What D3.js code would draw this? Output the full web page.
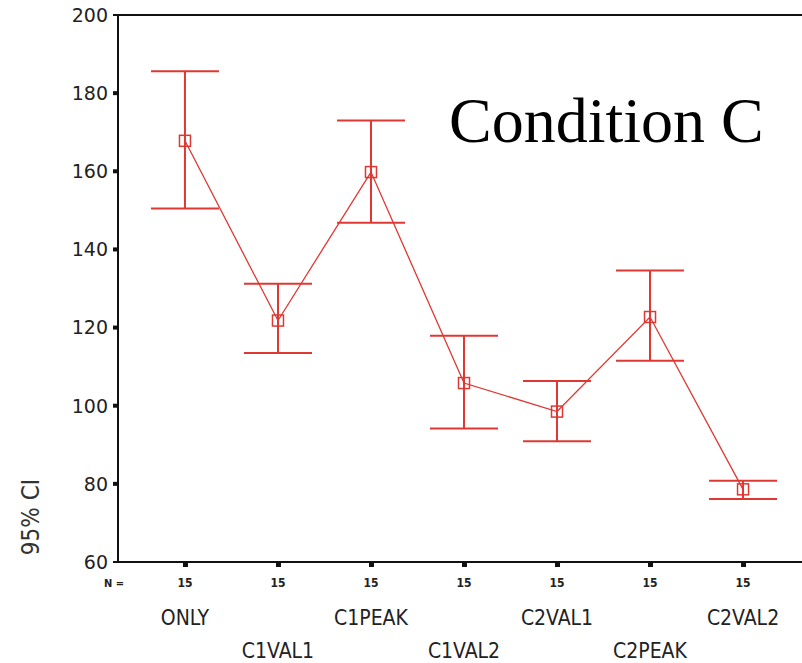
<!DOCTYPE html>
<meta charset="utf-8">
<body style="margin:0;background:#fff">
<script src="https://d3js.org/d3.v7.min.js"></script>
<script>
var width = 802;
var height = 663;

// values
var categories = ["ONLY", "C1VAL1", "C1PEAK", "C1VAL2", "C2VAL1", "C2PEAK", "C2VAL2"];
var means = [167.8, 121.8, 159.8, 105.8, 98.5, 122.7, 78.6];
var upper = [185.6, 131.2, 173.0, 117.9, 106.3, 134.6, 80.8];
var lower = [150.5, 113.5, 146.8, 94.2, 90.9, 111.5, 76.1];
var counts = [15, 15, 15, 15, 15, 15, 15];
var yTicks = [60, 80, 100, 120, 140, 160, 180, 200];

var red = "#df3833";

var svg = d3.select("body")
            .append("svg")
            .attr("width", width)
            .attr("height", height)
            .style("display", "block");

// note: "top" is a read-only global in the browser, so use other names
var plotLeft = 118, plotRight = 810, plotTop = 15, plotBottom = 562;

var x = d3.scalePoint()
          .domain(categories)
          .range([plotLeft, plotRight])
          .padding(0.72);

var y = d3.scaleLinear()
          .domain([60, 200])
          .range([plotBottom, plotTop]);

// frame
svg.append("path")
   .attr("d", "M" + (plotLeft - 5) + "," + plotTop + "H" + plotRight +
              "M" + plotLeft + "," + plotTop + "V" + plotBottom +
              "M" + (plotLeft - 5) + "," + plotBottom + "H" + plotRight)
   .attr("fill", "none")
   .attr("stroke", "#111")
   .attr("stroke-width", 2);

// y ticks
var yAxis = svg.append("g");
yAxis.selectAll("rect")
     .data(yTicks.slice(1, -1))
     .enter()
     .append("rect")
     .attr("x", plotLeft - 5)
     .attr("y", function(d) { return y(d) - 2; })
     .attr("width", 5)
     .attr("height", 4)
     .attr("fill", "#111");
yAxis.selectAll("text")
     .data(yTicks)
     .enter()
     .append("text")
     .attr("x", plotLeft - 10)
     .attr("y", function(d) { return y(d); })
     .attr("dy", "0.36em")
     .attr("text-anchor", "end")
     .style("font-family", "DejaVu Sans")
     .style("font-size", "19px")
     .attr("fill", "#222")
     .text(function(d) { return d; });

// x ticks
var xAxis = svg.append("g");
xAxis.selectAll("rect")
     .data(categories)
     .enter()
     .append("rect")
     .attr("x", function(d) { return x(d) - 2; })
     .attr("y", plotBottom + 1)
     .attr("width", 5)
     .attr("height", 4)
     .attr("fill", "#111");
xAxis.selectAll("text.n")
     .data(counts)
     .enter()
     .append("text")
     .attr("class", "n")
     .attr("x", function(d, i) { return x(categories[i]); })
     .attr("y", 587)
     .attr("text-anchor", "middle")
     .style("font-family", "DejaVu Sans Condensed, DejaVu Sans")
     .style("font-size", "12px")
     .style("font-weight", "bold")
     .attr("fill", "#222")
     .text(function(d) { return d; });
xAxis.selectAll("text.cat")
     .data(categories)
     .enter()
     .append("text")
     .attr("class", "cat")
     .attr("x", function(d) { return x(d); })
     .attr("y", function(d, i) { return i % 2 ? 658 : 625; })
     .attr("text-anchor", "middle")
     .style("font-family", "DejaVu Sans Condensed, DejaVu Sans")
     .style("font-size", "21px")
     .attr("fill", "#222")
     .text(function(d) { return d; });

svg.append("text")
   .attr("x", 104)
   .attr("y", 587)
   .style("font-family", "DejaVu Sans Condensed, DejaVu Sans")
   .style("font-size", "11px")
   .style("font-weight", "bold")
   .attr("fill", "#222")
   .text("N =");

// y title
svg.append("text")
   .attr("transform", "translate(39,517) rotate(-90)")
   .attr("text-anchor", "middle")
   .style("font-family", "DejaVu Sans Condensed, DejaVu Sans")
   .style("font-size", "24px")
   .attr("fill", "#333")
   .text("95% CI");

// error bars
var bars = svg.append("g")
              .attr("stroke", red)
              .attr("fill", "none");
var capHalf = 34;
categories.forEach(function(c, i) {
  var cx = x(c);
  bars.append("line")
      .attr("x1", cx).attr("x2", cx)
      .attr("y1", y(upper[i])).attr("y2", y(lower[i]))
      .attr("stroke-width", 2);
  bars.append("line")
      .attr("x1", cx - capHalf).attr("x2", cx + capHalf)
      .attr("y1", y(upper[i])).attr("y2", y(upper[i]))
      .attr("stroke-width", 2);
  bars.append("line")
      .attr("x1", cx - capHalf).attr("x2", cx + capHalf)
      .attr("y1", y(lower[i])).attr("y2", y(lower[i]))
      .attr("stroke-width", 2);
});

var line = d3.line()
             .x(function(d, i) { return x(categories[i]); })
             .y(function(d) { return y(d); });

svg.append("path")
   .datum(means)
   .attr("d", line)
   .attr("fill", "none")
   .attr("stroke", red)
   .attr("stroke-width", 1.3);

svg.selectAll("rect.mean")
   .data(means)
   .enter()
   .append("rect")
   .attr("class", "mean")
   .attr("x", function(d, i) { return x(categories[i]) - 5.5; })
   .attr("y", function(d) { return y(d) - 5.5; })
   .attr("width", 11)
   .attr("height", 11)
   .attr("fill", "none")
   .attr("stroke", red)
   .attr("stroke-width", 1.5);

svg.append("text")
   .attr("x", 449)
   .attr("y", 142)
   .style("font-family", "Liberation Serif, Times New Roman, serif")
   .style("font-size", "64px")
   .attr("fill", "#000")
   .text("Condition C");
</script>
</body>
